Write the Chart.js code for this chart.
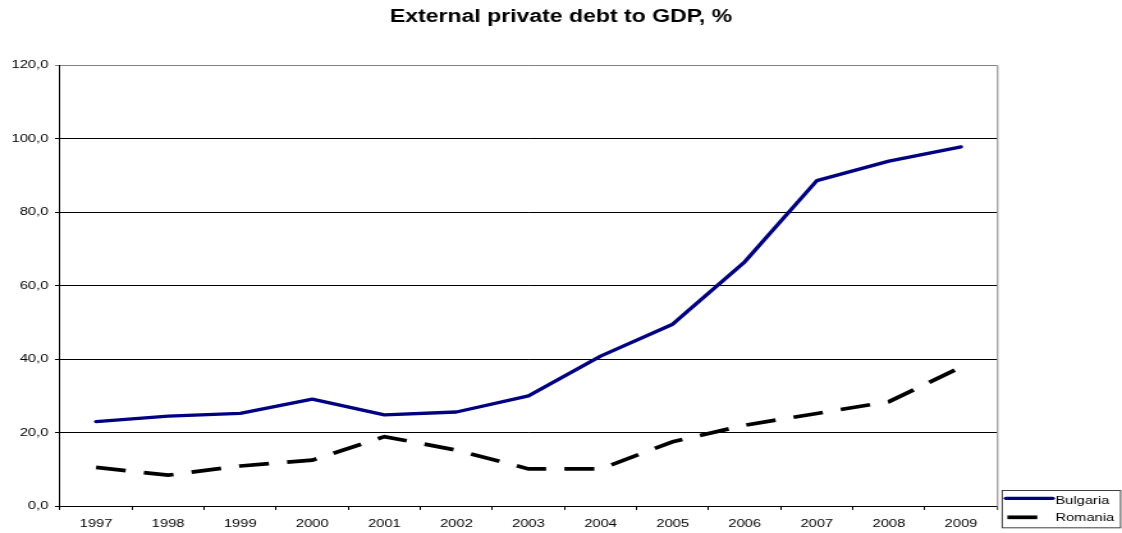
<!DOCTYPE html>
<html>
<head>
<meta charset="utf-8">
<script src="https://cdn.jsdelivr.net/npm/chart.js@4/dist/chart.umd.min.js"></script>
<style>
  html, body { margin: 0; padding: 0; background: #fff; overflow: hidden; }
  /* the chart is laid out narrower and stretched sideways to full width */
  #wrap { width: 877px; height: 533px; transform-origin: 0 0; transform: scaleX(1.27936); }
</style>
</head>
<body>
<div id="wrap"><canvas id="chart"></canvas></div>
<script>
const years = ['1997', '1998', '1999', '2000', '2001', '2002', '2003', '2004', '2005', '2006', '2007', '2008', '2009'];
const bulgaria = [23.0, 24.5, 25.2, 29.1, 24.8, 25.6, 30.0, 40.8, 49.5, 66.5, 88.6, 93.9, 97.8];
const romania = [10.5, 8.4, 10.9, 12.5, 18.9, 15.2, 10.1, 10.1, 17.5, 22.0, 25.2, 28.4, 37.8];
const yMin = 0;
const yMax = 120;
const yStep = 20;

const FONT = '"Liberation Sans", Arial, sans-serif';

// plot frame (top/right edges) and the boxed legend in the lower right corner
const frameAndLegend = {
  id: 'frameAndLegend',
  afterDraw(chart) {
    const ctx = chart.ctx;
    const a = chart.chartArea;
    ctx.save();
    ctx.strokeStyle = '#808080';
    ctx.lineWidth = 1;
    ctx.beginPath();
    ctx.moveTo(a.right + 0.5, a.top);
    ctx.lineTo(a.right + 0.5, a.bottom + 4);
    ctx.stroke();

    const left = a.right + 3.6;
    const right = chart.width - 1.6;
    const top = 490;
    const bottom = 527.3;
    ctx.strokeStyle = '#404040';
    ctx.strokeRect(left + 0.5, top + 0.5, right - left, bottom - top);

    const rows = [498.3, 517.3];
    const textRows = [500.5, 518.3];
    ctx.font = '11.5px ' + FONT;
    ctx.textBaseline = 'middle';
    ctx.textAlign = 'left';
    chart.data.datasets.forEach((ds, i) => {
      ctx.save();
      ctx.strokeStyle = ds.borderColor;
      ctx.lineWidth = ds.borderWidth;
      ctx.lineCap = ds.borderDash && ds.borderDash.length ? 'butt' : 'round';
      ctx.setLineDash(ds.borderDash || []);
      ctx.beginPath();
      ctx.moveTo(left + (i === 0 ? 3.3 : 4.5), rows[i]);
      ctx.lineTo(left + 40, rows[i]);
      ctx.stroke();
      ctx.restore();
      ctx.fillStyle = '#000';
      ctx.fillText(ds.label, left + 42, textRows[i]);
    });
    ctx.restore();
  }
};

new Chart(document.getElementById('chart'), {
  type: 'line',
  data: {
    labels: years,
    datasets: [
      {
        label: 'Bulgaria',
        data: bulgaria,
        borderColor: '#000080',
        borderWidth: 3.3,
        borderCapStyle: 'round',
        borderJoinStyle: 'round',
        pointRadius: 0,
        tension: 0,
        fill: false
      },
      {
        label: 'Romania',
        data: romania,
        borderColor: '#000000',
        borderWidth: 3.7,
        borderDash: [23.4, 14.3],
        borderCapStyle: 'butt',
        borderJoinStyle: 'miter',
        pointRadius: 0,
        tension: 0,
        fill: false
      }
    ]
  },
  options: {
    responsive: true,
    maintainAspectRatio: false,
    animation: false,
    devicePixelRatio: 1,
    layout: { padding: 0 },
    plugins: {
      legend: { display: false },
      tooltip: { enabled: false },
      title: {
        display: true,
        text: 'External private debt to GDP, %',
        color: '#000',
        font: { family: FONT, size: 18, weight: 'bold', lineHeight: 1.2 },
        padding: { top: 5.9, bottom: 37.8 }
      }
    },
    scales: {
      x: {
        type: 'category',
        offset: true,
        afterFit(scale) { scale.height = 27; },
        grid: {
          offset: true,
          drawOnChartArea: false,
          drawTicks: true,
          tickLength: 4,
          color: '#000',
          lineWidth: 1
        },
        border: { display: true, color: '#000', width: 1 },
        ticks: {
          color: '#000',
          font: { family: FONT, size: 11.5 },
          padding: 7.3,
          autoSkip: false,
          maxRotation: 0,
          minRotation: 0
        }
      },
      y: {
        min: yMin,
        max: yMax,
        afterFit(scale) { scale.width = 46.9; },
        grid: {
          color: (c) => (c.tick && c.tick.value === yMax ? '#808080' : '#000'),
          lineWidth: 1,
          drawTicks: true,
          tickLength: 3.9
        },
        border: { display: true, color: '#000', width: 1 },
        ticks: {
          stepSize: yStep,
          color: '#000',
          font: { family: FONT, size: 11.5 },
          padding: 5.2,
          callback: (v) => Number(v).toFixed(1).replace('.', ',')
        }
      },
      // empty right-hand axis that reserves the legend column
      legendSpace: {
        type: 'linear',
        position: 'right',
        min: yMin,
        max: yMax,
        afterFit(scale) { scale.width = 97.7; },
        grid: { display: false, drawOnChartArea: false },
        border: { display: false },
        ticks: { display: false }
      }
    }
  },
  plugins: [frameAndLegend]
});
</script>
</body>
</html>
